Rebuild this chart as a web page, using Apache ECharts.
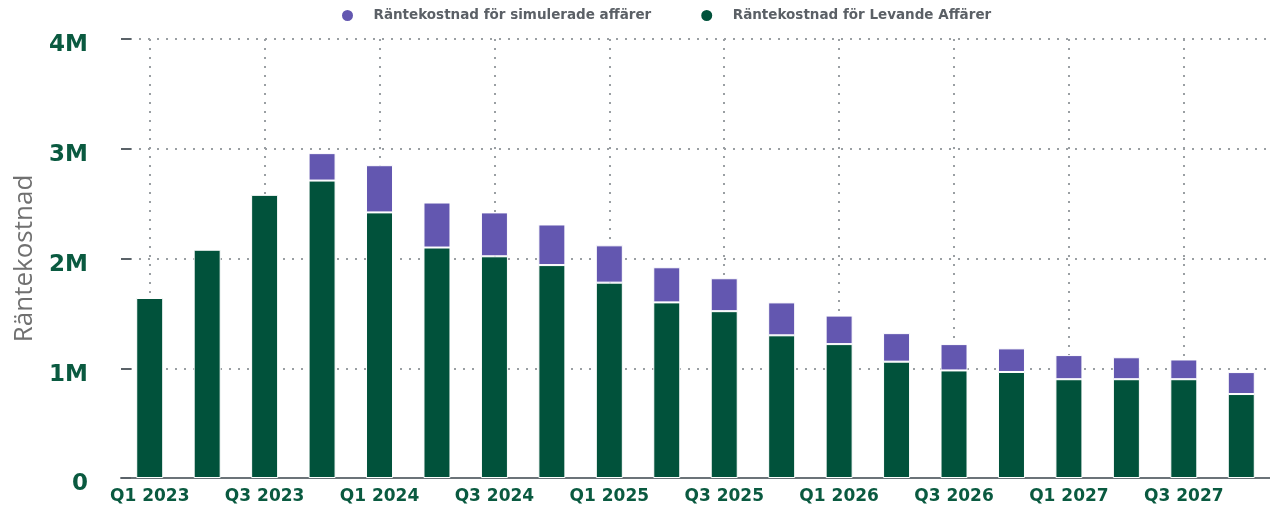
<!DOCTYPE html>
<html>
<head>
<meta charset="utf-8">
<script src="https://cdn.jsdelivr.net/npm/echarts@6/dist/echarts.min.js"></script>
<style>
  html, body { margin: 0; padding: 0; background: #fff; }
  #chart { width: 1270px; height: 515px; }
</style>
</head>
<body>
<div id="chart"></div>
<script>
const quarters = [
  "Q1 2023", "Q2 2023", "Q3 2023", "Q4 2023",
  "Q1 2024", "Q2 2024", "Q3 2024", "Q4 2024",
  "Q1 2025", "Q2 2025", "Q3 2025", "Q4 2025",
  "Q1 2026", "Q2 2026", "Q3 2026", "Q4 2026",
  "Q1 2027", "Q2 2027", "Q3 2027", "Q4 2027"
];

// Räntekostnad för Levande Affärer (underst i stapeln)
const levande = [
  1640000, 2080000, 2580000, 2710000,
  2420000, 2100000, 2020000, 1940000,
  1780000, 1600000, 1520000, 1300000,
  1220000, 1060000, 980000, 966000,
  900000, 900000, 900000, 765000
];

// Räntekostnad för simulerade affärer (ovanpå)
const simulerade = [
  0, 0, 0, 250000,
  430000, 410000, 400000, 370000,
  340000, 320000, 300000, 300000,
  260000, 260000, 240000, 215000,
  220000, 200000, 180000, 200000
];

const yTicks = [0, 1000000, 2000000, 3000000, 4000000];

const FONT = "DejaVu Sans";
const GREEN = "#01523b";
const PURPLE = "#6357b0";
const LABEL_GREEN = "#0a5a40";

const chart = echarts.init(document.getElementById("chart"));

const option = {
  animation: false,
  textStyle: { fontFamily: FONT },
  legend: {
    top: 3,
    left: 335,
    data: ["Räntekostnad för simulerade affärer", "Räntekostnad för Levande Affärer"],
    icon: "circle",
    itemWidth: 42,
    itemHeight: 13,
    itemGap: 48,
    textStyle: { color: "#5b6066", fontSize: 13.5, fontWeight: "bold", fontFamily: FONT }
  },
  grid: { left: 121, right: 0, top: 39, bottom: 37 },
  xAxis: {
    type: "category",
    data: quarters,
    axisLine: { lineStyle: { color: "#6b7378", width: 2 } },
    axisTick: { show: false },
    axisLabel: {
      interval: 1,
      color: LABEL_GREEN,
      fontSize: 17,
      fontWeight: "bold",
      fontFamily: FONT,
      margin: 10
    },
    splitLine: {
      show: true,
      interval: 1,
      alignWithLabel: true,
      lineStyle: { color: "#9a9fa3", width: 2, type: [2, 7] }
    }
  },
  yAxis: {
    type: "value",
    min: yTicks[0],
    max: yTicks[yTicks.length - 1],
    interval: 1000000,
    name: "Räntekostnad",
    nameLocation: "middle",
    nameGap: 83,
    nameTextStyle: { color: "#707070", fontSize: 26, fontFamily: "Open Sans" },
    axisLine: { show: false },
    axisTick: { show: true, inside: true, length: 10, lineStyle: { color: "#5a6268", width: 2 } },
    axisLabel: {
      color: LABEL_GREEN,
      fontSize: 23,
      fontWeight: "bold",
      fontFamily: FONT,
      margin: 33,
      verticalAlign: "top",
      lineHeight: 13,
      formatter: (v) => (v === 0 ? "0" : v / 1000000 + "M")
    },
    splitLine: {
      lineStyle: { color: "#9a9fa3", width: 2, type: [2, 7] }
    }
  },
  series: [
    {
      name: "Räntekostnad för Levande Affärer",
      type: "bar",
      stack: "total",
      barWidth: 27,
      data: levande,
      itemStyle: { color: GREEN, borderColor: "#fff", borderWidth: 1 }
    },
    {
      name: "Räntekostnad för simulerade affärer",
      type: "bar",
      stack: "total",
      barWidth: 27,
      data: simulerade.map((v) => (v === 0 ? null : v)),
      itemStyle: { color: PURPLE, borderColor: "#fff", borderWidth: 1 }
    }
  ]
};

chart.setOption(option);
</script>
</body>
</html>
